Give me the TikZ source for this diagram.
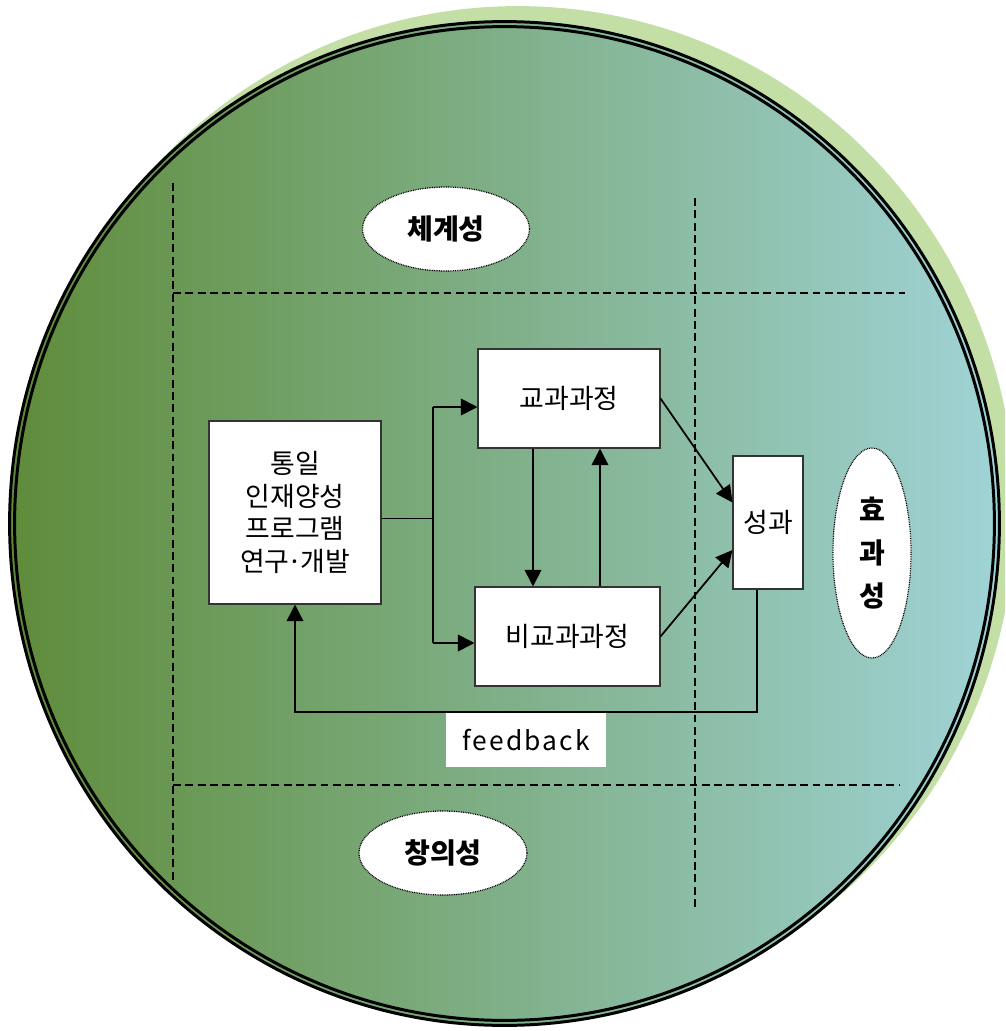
\documentclass[tikz,border=0pt]{standalone}
\usepackage{fontspec}
\setmainfont{Noto Sans CJK KR}
\usetikzlibrary{arrows.meta, shapes.geometric, calc}
\definecolor{rimgreen}{RGB}{195,223,166}
\definecolor{leafgreen}{RGB}{95,140,58}
\definecolor{mistblue}{RGB}{160,211,214}
\newcommand{\middot}{\kern-0.08em·\kern-0.08em}
\tikzset{
    stage/.style={draw=black!80, line width=0.6pt, fill=white, inner sep=0pt, align=center,
        font=\fontsize{15.3}{18.7}\selectfont},
    facet/.style={ellipse, draw, fill=white, line width=0.7pt, dash pattern=on 0.5pt off 0.5pt,
        inner sep=0pt, align=center, font=\fontsize{16}{24.5}\selectfont\bfseries},
    guide/.style={line width=1.1pt, dash pattern=on 4.5pt off 2.5pt},
    flow/.style={-{Triangle[length=9.5pt, width=9.5pt]}, line width=1pt},
}

\begin{document}
\begin{tikzpicture}[x=0.02cm, y=-0.02cm]
    \useasboundingbox (0,0) rectangle (1005,1031);
    \clip (0,0) rectangle (1005,1031);

    \fill[rimgreen] (518,511) ellipse [x radius=9.94cm, y radius=10.1cm];
    \shade[left color=leafgreen, right color=mistblue] (504.5,523.5) ellipse [x radius=9.9cm, y radius=10.04cm];
    \draw[line width=1.7pt] (504.5,523.5) ellipse [x radius=9.9cm, y radius=10.04cm];
    \draw[line width=1.7pt] (504.5,523.5) ellipse [x radius=9.8cm, y radius=9.94cm];

    \draw[guide] (173,183) -- (173,880);
    \draw[guide] (695,198) -- (695,910);
    \draw[guide] (173,293) -- (905,293);
    \draw[guide] (173,785) -- (900,785);

    \node[facet, minimum width=3.34cm, minimum height=1.68cm] (system) at (446,229) {체계성};
    \node[facet, minimum width=3.36cm, minimum height=1.68cm] (creative) at (443,853) {창의성};
    \node[facet, minimum width=1.56cm, minimum height=4.2cm] (effect) at (872,553) {효\\과\\성};

    \node[stage, minimum width=3.44cm, minimum height=3.66cm] (lbox) at (295,512.5) {통일\\인재양성\\프로그램\\연구\middot 개발};
    \node[stage, minimum width=3.64cm, minimum height=1.98cm] (kyo) at (569,398.5) {교과과정};
    \node[stage, minimum width=3.7cm, minimum height=1.98cm] (bikyo) at (567.5,636.5) {비교과과정};
    \node[stage, minimum width=1.4cm, minimum height=2.66cm] (perf) at (768,522.5) {성과};
    \node[fill=white, inner sep=0pt, minimum width=3.2cm, minimum height=1.08cm,
        font=\fontsize{15}{18}\selectfont\addfontfeature{LetterSpace=8}] (fbtext) at (526,740) {feedback};

    \coordinate (split) at (433,518);
    \coordinate (upper) at (433,407);
    \coordinate (lower) at (433,643);
    \coordinate (loop) at (757,712);

    \draw[line width=0.5pt] (split -| lbox.east) -- (split);
    \draw[line width=1pt] (upper) -- (lower);
    \draw[flow] (upper) -- (upper -| kyo.west);
    \draw[flow] (lower) -- (lower -| bikyo.west);
    \draw[flow] ([xshift=-0.72cm]kyo.south) -- ([xshift=-0.72cm]kyo.south |- bikyo.north);
    \draw[flow] ([xshift=0.62cm]kyo.south |- bikyo.north) -- ([xshift=0.62cm]kyo.south);
    \draw[flow] (kyo.east) -- ([yshift=0.4cm]perf.west);
    \draw[flow] (bikyo.east) -- ([yshift=-0.55cm]perf.west);
    \draw[flow, line width=0.9pt] (loop |- perf.south) -- (loop) -| (lbox.south);
\end{tikzpicture}
\end{document}
